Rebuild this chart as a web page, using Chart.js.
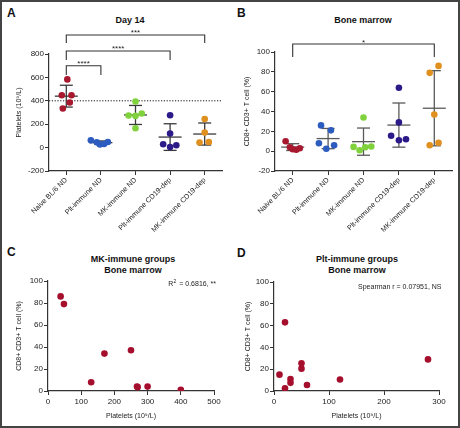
<!DOCTYPE html>
<html>
<head>
<meta charset="utf-8">
<script src="https://cdn.jsdelivr.net/npm/chart.js@4.4.1/dist/chart.umd.min.js"></script>
<style>
    body { margin: 0; width: 460px; height: 428px; position: relative; background: #fff; overflow: hidden;
           font-family: "Liberation Sans", Arial, sans-serif; color: #111; }
    .frame { position: absolute; left: 0; top: 0; width: 460px; height: 428px; box-sizing: border-box;
             border: 2px solid #444; pointer-events: none; }
    canvas { position: absolute; }
    .letter { position: absolute; font-weight: bold; font-size: 12px; line-height: 12px; color: #111; }
    .title { position: absolute; font-weight: bold; font-size: 9px; line-height: 11px; text-align: center; width: 160px; color: #111; }
</style>
</head>
<body>
<div class="letter" style="left:7px;top:7px">A</div>
<div class="letter" style="left:237px;top:7px">B</div>
<div class="letter" style="left:7px;top:246px">C</div>
<div class="letter" style="left:237px;top:247px">D</div>

<div class="title" style="left:50px;top:15px">Day 14</div>
<div class="title" style="left:283px;top:15px">Bone marrow</div>
<div class="title" style="left:53px;top:254px">MK-immune groups<br>Bone marrow</div>
<div class="title" style="left:277px;top:254px">Plt-immune groups<br>Bone marrow</div>

<canvas id="chartA" width="230" height="240" style="left:0;top:0"></canvas>
<canvas id="chartB" width="230" height="240" style="left:230px;top:0"></canvas>
<canvas id="chartC" width="230" height="198" style="left:0;top:230px"></canvas>
<canvas id="chartD" width="230" height="198" style="left:230px;top:230px"></canvas>
<div class="frame"></div>

<script>
// groups (shared by A and B)
const groups = ['Naive BL/6 ND', 'Plt-immune ND', 'MK-immune ND', 'Plt-immune CD19-dep', 'MK-immune CD19-dep'];
const groupColors = ['#a8182e', '#2c5cc0', '#80d23c', '#2b1a88', '#e0901e'];

// A: platelets at day 14 (10^9/L)
const pltNaive = [583, 448, 448, 385, 334];
const pltPltND = [62, 45, 26, 31, 48];
const pltMkND = [394, 274, 271, 291, 165];
const pltPltCD19 = [277, 120, 28, 20, 5];
const pltMkCD19 = [245, 128, 43, 48];
const jitterA = [[0.03, -0.13, 0.15, 0.1, -0.1], [-0.29, -0.12, -0.03, 0.09, 0.2], [0, -0.2, 0, 0.18, 0],
                 [0, 0, -0.2, 0.18, 0], [0, 0, -0.15, 0.12]];
const yTicksA = [-200, 0, 200, 400, 600, 800];

// B: bone marrow CD8+ CD3+ T cells (%)
const bmNaive = [10, 4, 2, 1.5, 3];
const bmPltND = [26, 21, 8, 6, 2.5];
const bmMkND = [34, 4.3, 1, 4, 4.7];
const bmPltCD19 = [64, 29, 15.5, 11, 12];
const bmMkCD19 = [86, 79, 37, 6, 8.5];
const jitterB = [[-0.2, -0.08, 0, 0.1, 0.2], [-0.2, 0.08, -0.26, 0.17, -0.05], [0, -0.28, -0.11, 0.05, 0.22],
                 [0, 0, -0.22, 0, 0.2], [0.12, -0.13, 0, -0.13, 0.12]];
const yTicksB = [-20, 0, 20, 40, 60, 80, 100];

// C: MK-immune groups, platelets vs T cells
const mkPlatelets = [38, 48, 130, 170, 250, 268, 270, 300, 400];
const mkTcells = [86, 79, 8, 34, 37, 4, 3.5, 4, 1];
// D: Plt-immune groups
const pltPlatelets = [10, 20, 20, 30, 30, 50, 50, 60, 120, 280];
const pltTcells = [15, 63, 2.5, 11, 7.5, 25.5, 20.5, 5.5, 10.5, 29];

const FONT = '"Liberation Sans", Arial, sans-serif';
Chart.defaults.font.family = FONT;
Chart.defaults.color = '#222';

const mean = a => a.reduce((s, v) => s + v, 0) / a.length;
const sd = a => { const m = mean(a); return Math.sqrt(a.reduce((s, v) => s + (v - m) ** 2, 0) / (a.length - 1)); };

function line(ctx, x1, y1, x2, y2) {
    ctx.beginPath(); ctx.moveTo(x1, y1); ctx.lineTo(x2, y2); ctx.stroke();
}

// mean +/- SD bars, reference line and significance brackets
const statsPlugin = {
    id: 'stats',
    beforeDatasetsDraw(chart, args, opts) {
        const { ctx, chartArea, scales: { x, y } } = chart;
        ctx.save();
        if (opts.refLine != null) {
            ctx.strokeStyle = '#111'; ctx.lineWidth = 1; ctx.setLineDash([1.2, 1.6]);
            const yy = y.getPixelForValue(opts.refLine);
            line(ctx, chartArea.left, yy, chartArea.right, yy);
            ctx.setLineDash([]);
        }
        ctx.strokeStyle = opts.color; ctx.lineWidth = 1.3;
        opts.values.forEach((vals, i) => {
            const m = mean(vals), s = sd(vals);
            const cx = x.getPixelForValue(i);
            const ym = y.getPixelForValue(m), yt = y.getPixelForValue(m + s), yb = y.getPixelForValue(m - s);
            line(ctx, cx - 11.5, ym, cx + 11.5, ym);
            line(ctx, cx, yt, cx, yb);
            line(ctx, cx - 6.5, yt, cx + 6.5, yt);
            line(ctx, cx - 6.5, yb, cx + 6.5, yb);
        });
        ctx.restore();
    },
    afterDraw(chart, args, opts) {
        const { ctx, scales: { x, y } } = chart;
        ctx.save();
        ctx.strokeStyle = '#333'; ctx.fillStyle = '#222'; ctx.lineWidth = 1.1;
        ctx.font = '8px ' + FONT; ctx.textAlign = 'center'; ctx.textBaseline = 'alphabetic';
        (opts.brackets || []).forEach(b => {
            const x1 = x.getPixelForValue(b.from), x2 = x.getPixelForValue(b.to);
            const yt = y.getPixelForValue(b.top), yf = y.getPixelForValue(b.foot);
            ctx.beginPath();
            ctx.moveTo(x1, yf); ctx.lineTo(x1, yt); ctx.lineTo(x2, yt); ctx.lineTo(x2, yf);
            ctx.stroke();
            ctx.fillText(b.text, (x1 + x2) / 2, yt + 0.5);
        });
        ctx.restore();
    }
};

// correlation note at the top right of the plot area
const notePlugin = {
    id: 'note',
    afterDraw(chart, args, opts) {
        const { ctx, chartArea } = chart;
        ctx.save();
        ctx.fillStyle = '#222'; ctx.font = '7px ' + FONT;
        ctx.textAlign = 'right'; ctx.textBaseline = 'middle';
        const xr = chartArea.right + opts.dx;
        const yy = chartArea.top + opts.dy;
        ctx.fillText(opts.text, xr, yy);
        if (opts.sup) {
            // superscript right after the leading "R"
            const tail = ctx.measureText(opts.text.slice(1)).width;
            ctx.font = '5px ' + FONT;
            ctx.textAlign = 'left';
            ctx.fillText(opts.sup, xr - tail + 0.2, yy - 2.5);
        }
        ctx.restore();
    }
};

function yAxis(min, max, ticks, title, width, titlePad) {
    return {
        type: 'linear', min: min, max: max,
        afterBuildTicks: s => { s.ticks = ticks.map(v => ({ value: v })); },
        afterFit: s => { s.width = width; },
        ticks: { font: { size: 8 }, padding: 1, color: '#222' },
        grid: { drawOnChartArea: false, tickLength: 4, color: '#333', lineWidth: 1 },
        border: { color: '#333', width: 1.2 },
        title: { display: true, text: title, font: { size: 7 }, padding: { top: titlePad, bottom: 0 }, color: '#222' }
    };
}

function dotPlot(id, values, jitter, yMin, yMax, yTicks, yTitle, box, stats) {
    const datasets = values.map((vals, i) => ({
        data: vals.map((v, k) => ({ x: i + jitter[i][k], y: v })),
        backgroundColor: groupColors[i], borderWidth: 0, pointRadius: 3.3
    }));
    return new Chart(document.getElementById(id), {
        type: 'scatter',
        data: { datasets },
        plugins: [statsPlugin],
        options: {
            responsive: false, animation: false, devicePixelRatio: 1,
            layout: { padding: { top: box.top, right: box.right, left: 0, bottom: 0 } },
            scales: {
                x: {
                    type: 'linear', min: -0.5, max: groups.length - 0.5,
                    afterBuildTicks: s => { s.ticks = groups.map((g, i) => ({ value: i })); },
                    afterFit: s => { s.height = box.xHeight; },
                    ticks: { callback: v => groups[v], minRotation: 45, maxRotation: 45, autoSkip: false,
                             font: { size: 7.2 }, padding: 1, color: '#222' },
                    grid: { drawOnChartArea: false, tickLength: 4, color: '#333' },
                    border: { color: '#333', width: 1.2 }
                },
                y: yAxis(yMin, yMax, yTicks, yTitle, box.yWidth, box.titlePad)
            },
            plugins: { legend: { display: false }, tooltip: { enabled: false }, stats }
        }
    });
}

function xyPlot(id, xs, ys, xMax, xTicks, box, note) {
    return new Chart(document.getElementById(id), {
        type: 'scatter',
        data: { datasets: [{ data: xs.map((v, i) => ({ x: v, y: ys[i] })), backgroundColor: '#a50f2d',
                             borderWidth: 0, pointRadius: 3.3 }] },
        plugins: [notePlugin],
        options: {
            responsive: false, animation: false, devicePixelRatio: 1,
            layout: { padding: { top: box.top, right: box.right, left: 0, bottom: 0 } },
            scales: {
                x: {
                    type: 'linear', min: 0, max: xMax,
                    afterBuildTicks: s => { s.ticks = xTicks.map(v => ({ value: v })); },
                    afterFit: s => { s.height = box.xHeight; },
                    ticks: { font: { size: 8 }, padding: 2, color: '#222', maxRotation: 0 },
                    grid: { drawOnChartArea: false, tickLength: 4, color: '#333' },
                    border: { color: '#333', width: 1.2 },
                    title: { display: true, text: 'Platelets (10⁹/L)', font: { size: 7 },
                             padding: { top: 0, bottom: 8 }, color: '#222' }
                },
                y: yAxis(0, 100, [0, 20, 40, 60, 80, 100], 'CD8+ CD3+ T cell (%)', box.yWidth, box.titlePad)
            },
            plugins: { legend: { display: false }, tooltip: { enabled: false }, note }
        }
    });
}

dotPlot('chartA', [pltNaive, pltPltND, pltMkND, pltPltCD19, pltMkCD19], jitterA, -200, 800, yTicksA,
    'Platelets (10⁹/L)', { top: 54, right: 8, xHeight: 69, yWidth: 49, titlePad: 15 },
    { color: '#3a3a3a', values: [pltNaive, pltPltND, pltMkND, pltPltCD19, pltMkCD19], refLine: 400,
      brackets: [{ from: 0, to: 1, top: 700, foot: 620, text: '****' },
                 { from: 0, to: 3, top: 826, foot: 749, text: '****' },
                 { from: 0, to: 4, top: 963, foot: 894, text: '***' }] });

dotPlot('chartB', [bmNaive, bmPltND, bmMkND, bmPltCD19, bmMkCD19], jitterB, -20, 100, yTicksB,
    'CD8+ CD3+ T cell (%)', { top: 52, right: 8, xHeight: 69, yWidth: 45, titlePad: 12.5 },
    { color: '#5a5a5a', values: [bmNaive, bmPltND, bmMkND, bmPltCD19, bmMkCD19],
      brackets: [{ from: 0, to: 4, top: 108, foot: 95, text: '*' }] });

xyPlot('chartC', mkPlatelets, mkTcells, 500, [0, 100, 200, 300, 400, 500],
    { top: 51, right: 16, xHeight: 37, yWidth: 48, titlePad: 15 },
    { text: 'R   = 0.6816, **', sup: '2', dx: 2, dy: 3.5 });
xyPlot('chartD', pltPlatelets, pltTcells, 300, [0, 100, 200, 300],
    { top: 52, right: 21, xHeight: 37, yWidth: 44, titlePad: 14 },
    { text: 'Spearman r = 0.07951, NS', dx: 2.5, dy: 5.5 });
</script>
</body>
</html>
